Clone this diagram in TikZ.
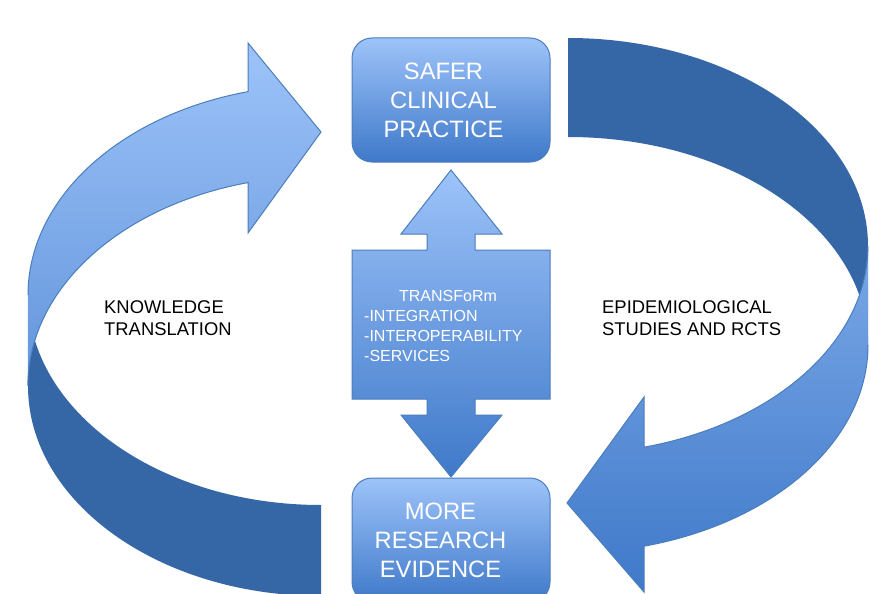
\documentclass[tikz,border=0pt]{standalone}
\usepackage{fontspec}
\setmainfont{Liberation Sans}
\definecolor{lightb}{HTML}{9DC3F9}
\definecolor{darkb}{HTML}{3F79C9}
\definecolor{bandc}{HTML}{3567A6}
\definecolor{edgec}{HTML}{4A7EBB}
\begin{document}
\begin{tikzpicture}[x=1pt,y=-1pt,
  boxstyle/.style={draw=edgec, line width=1pt, rounded corners=20pt,
    minimum width=198pt, minimum height=124pt, top color=lightb,
    bottom color=darkb, inner sep=0pt},
  boxtext/.style={text=white, font=\fontsize{23.7}{29}\selectfont,
    align=center, inner sep=0pt},
  sidetext/.style={anchor=north west, inner sep=0pt, align=left,
    font=\fontsize{18.4}{22}\selectfont, text=black},
  midtext/.style={inner sep=0pt, text=white, font=\fontsize{16}{19.6}\selectfont},
  outline/.style={draw=edgec, line width=1pt, line join=miter}]
\useasboundingbox (0,0) rectangle (870,594);
\fill[white] (0,0) rectangle (870,594);

% ---- left curved arrow (Knowledge translation) ----
\fill[bandc] (28,295) arc[start angle=180,end angle=90,x radius=293,y radius=210]
  -- (321,596) arc[start angle=90,end angle=180,x radius=293,y radius=210] -- cycle;
\begin{scope}
\clip (28,295) arc[start angle=180,end angle=255.6,x radius=293,y radius=210]
  -- (248,43) -- (321,132) -- (248,233) -- (248,182.6)
  arc[start angle=255.6,end angle=180,x radius=293,y radius=210] -- cycle;
\shade[top color=lightb,bottom color=darkb] (20,43) rectangle (330,596);
\end{scope}
\draw[outline] (28,295) arc[start angle=180,end angle=255.6,x radius=293,y radius=210]
  -- (248,43) -- (321,132) -- (248,233) -- (248,182.6)
  arc[start angle=255.6,end angle=180,x radius=293,y radius=210];

% ---- right curved arrow (Epidemiological studies) ----
\fill[bandc] (868,246) arc[start angle=0,end angle=-90,x radius=300,y radius=208]
  -- (568,137) arc[start angle=-90,end angle=0,x radius=300,y radius=208] -- cycle;
\begin{scope}
\clip (868,345) arc[start angle=0,end angle=75.3,x radius=300,y radius=208]
  -- (644,592) -- (567,503) -- (644,397) -- (644,447.2)
  arc[start angle=75.3,end angle=0,x radius=300,y radius=208] -- cycle;
\shade[top color=lightb,bottom color=darkb] (560,38) rectangle (875,592);
\end{scope}
\draw[outline] (868,345) arc[start angle=0,end angle=75.3,x radius=300,y radius=208]
  -- (644,592) -- (567,503) -- (644,397) -- (644,447.2)
  arc[start angle=75.3,end angle=0,x radius=300,y radius=208];

% ---- central double arrow ----
\draw[outline, top color=lightb, bottom color=darkb]
  (451,170) -- (502,234) -- (475,234) -- (475,250) -- (550,250) -- (550,399)
  -- (475,399) -- (475,415) -- (502,415) -- (451,477) -- (401,415) -- (427,415)
  -- (427,399) -- (352,399) -- (352,250) -- (427,250) -- (427,234) -- (401,234) -- cycle;
\node[midtext, anchor=base] (tft) at (448,301.5) {TRANSFoRm};
\node[midtext, anchor=north west, align=left] (tfl) at (364,310.5)
  {-INTEGRATION\\-INTEROPERABILITY\\-SERVICES};

% ---- boxes ----
\node[boxstyle] (safer) at (451,100) {};
\node[boxtext] (safertxt) at (443.5,100.5) {SAFER\\CLINICAL\\PRACTICE};
\node[boxstyle] (more) at (451,540) {};
\node[boxtext] (moretxt) at (440.5,540) {MORE\\RESEARCH\\EVIDENCE};

% ---- side labels ----
\node[sidetext] (kt) at (104,300.6) {KNOWLEDGE\\TRANSLATION};
\node[sidetext] (ep) at (602,300.6) {EPIDEMIOLOGICAL\\STUDIES AND RCTS};
\end{tikzpicture}
\end{document}
